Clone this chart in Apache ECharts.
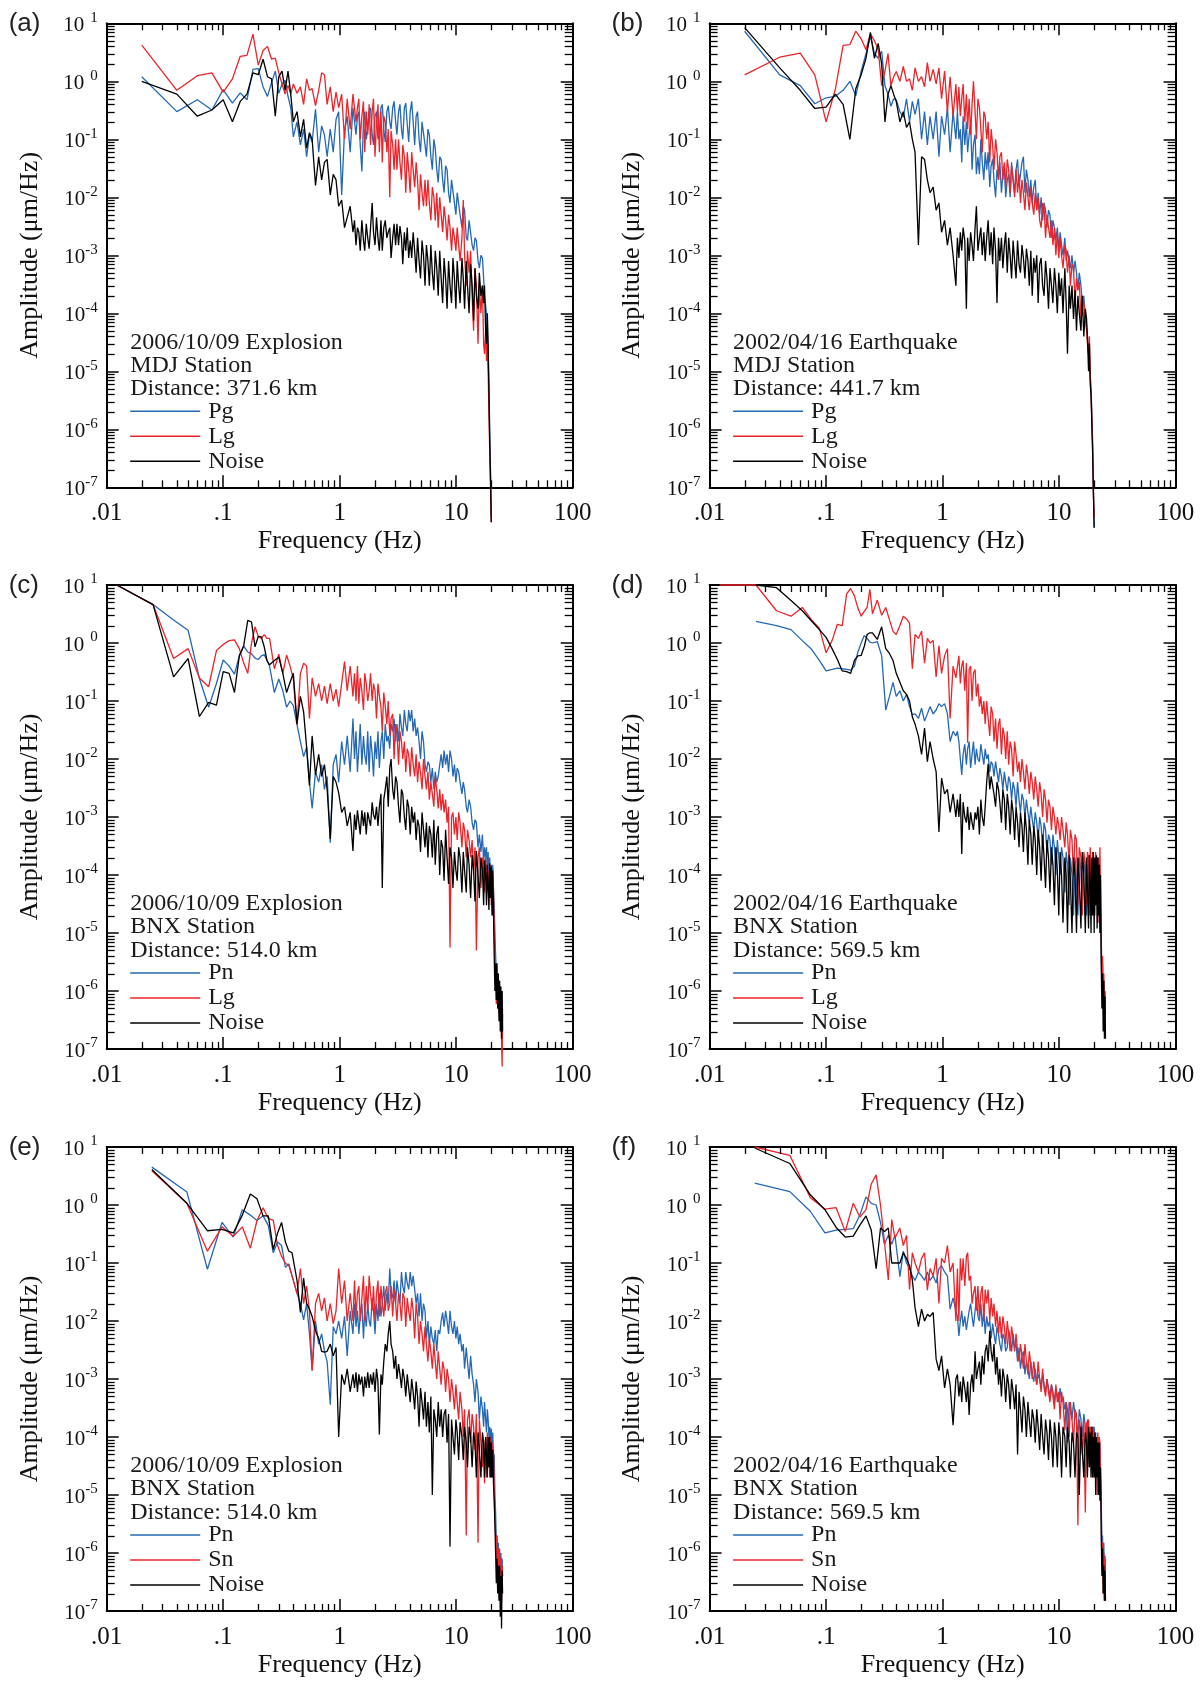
<!DOCTYPE html>
<html><head><meta charset="utf-8">
<script src="https://cdn.jsdelivr.net/npm/echarts@6/dist/echarts.min.js"></script>
<style>html,body{margin:0;padding:0;background:#fff}#c{width:1203px;height:1689px}</style>
</head><body><div id="c"></div>
<script>
// ---------- axis tick labels ----------
const xTickLabels = ['.01', '.1', '1', '10', '100'];
const yTickExps = ['-7', '-6', '-5', '-4', '-3', '-2', '-1', '0', '1'];

// ---------- frequencies (Hz) ----------
const freqMid = [0.43,0.46,0.49,0.52,0.55,0.58,0.62,0.66,0.70,0.74,0.78,0.83,0.88,0.93,0.98,1.04,1.10,1.16,1.23,1.30,
1.34,1.38,1.42,1.46,1.50,1.55,1.60,1.64,1.69,1.74,1.79,1.84,1.90,1.95,2.01,2.07,2.13,2.19,2.26,2.32,
2.39,2.46,2.54,2.61,2.69,2.76,2.85,2.93,3.02,3.10,3.20,3.29,3.39,3.48,3.59,3.69,3.80,3.91,4.03,4.15,
4.27,4.40,4.53,4.66,4.80,4.94,5.09,5.24,5.40,5.55,5.72,5.88,6.06,6.24,6.43,6.61,6.81,7.01,7.22,7.43,
7.65,7.87,8.11,8.35,8.60,8.85,9.12,9.38,9.66,9.94,10.2,10.5,10.8,11.2,11.5,11.8,12.2,12.5,12.9,13.3,
13.7,14.1,14.5,14.9,15.4,15.8,16.3,16.8,17.2,17.5,17.9,18.2,18.5,18.8];
const freqTail40 = [19.1,19.4,19.7,20.0];
const freqTail50 = [19.1,19.4,19.7,20.0,20.3,20.6,20.9,21.2,21.5,21.8,22.1,22.4,22.7,23.0,23.3,23.6,23.9,24.2,24.5,24.8,25.0];
const freqA = [0.02,0.04,0.06,0.08,0.10,0.12,0.14,0.16,0.18,0.20,0.22,0.24,0.26,0.28,0.30,0.32,0.34,0.36,0.38,0.40].concat(freqMid, freqTail40);
const freqC = [0.0122,0.025,0.0375,0.05,0.0625,0.075,0.0875,0.1,0.1125,0.125,0.1375,0.15,0.1625,0.175,0.1875,0.2,0.2125,0.225,0.2375,0.25,0.275,0.3,0.325,0.35,0.375,0.4].concat(freqMid, freqTail50);
const freqE = [0.0244,0.0488,0.0732,0.0977,0.122,0.146,0.171,0.195,0.22,0.244,0.269,0.293,0.317,0.342,0.366,0.39].concat(freqMid, freqTail50);

// ---------- amplitudes (um/Hz) ----------
const aPg = [1.2,0.30,0.48,0.32,0.72,0.42,0.63,0.48,1.6,1.65,0.8,0.55,0.95,1.5,0.62,0.9,1.05,0.55,0.35,0.11,
0.2,0.08,0.15,0.05,0.12,0.09,0.33,0.06,0.17,0.12,0.05,0.15,0.06,0.22,0.3,0.011,0.14,0.25,0.06,0.35,
0.35,0.12,0.25,0.3,0.08,0.028,0.2,0.3,0.1,0.15,0.3,0.35,0.12,0.08,0.25,0.3,0.1,0.13,0.35,0.4,
0.15,0.09,0.3,0.38,0.2,0.15,0.35,0.45,0.2,0.12,0.3,0.4,0.15,0.1,0.35,0.42,0.18,0.09,0.3,0.45,
0.2,0.08,0.25,0.3,0.1,0.06,0.2,0.2,0.08,0.05,0.15,0.12,0.05,0.03,0.1,0.07,0.03,0.018,0.05,0.045,
0.02,0.012,0.035,0.03,0.012,0.008,0.02,0.02,0.008,0.005,0.012,0.012,0.005,0.003,0.007,0.006,0.002,0.0018,0.004,0.004,
0.0015,0.0012,0.002,0.0018,8e-4,6e-4,1e-3,9e-4,4e-4,2e-4,2e-4,1e-4,5e-5,2e-5,
6e-6,1e-6,2e-7,3e-8];
const aLg = [4.2,0.70,1.25,1.4,0.65,1.1,2.7,2.8,6.5,1.9,3.4,4.0,2.4,2.5,1.4,0.9,0.6,0.85,0.6,0.9,
0.62,0.8,0.4,1.1,0.7,0.75,0.38,0.7,1.4,1.3,0.4,0.8,0.3,0.65,0.35,0.6,0.1,0.5,0.15,0.6,
0.6,0.2,0.35,0.5,0.1,0.25,0.45,0.06,0.3,0.12,0.4,0.08,0.3,0.5,0.05,0.2,0.4,0.06,0.3,0.04,
0.25,0.2,0.06,0.15,0.01,0.14,0.08,0.03,0.1,0.03,0.1,0.04,0.02,0.08,0.05,0.012,0.06,0.03,0.012,0.06,
0.03,0.015,0.04,0.02,0.006,0.025,0.012,0.007,0.02,0.007,0.02,0.008,0.004,0.015,0.01,0.004,0.012,0.003,0.01,0.005,
0.0025,0.007,0.004,0.0018,0.005,0.003,0.0012,0.003,0.002,0.0012,0.003,0.0015,8e-4,0.002,0.009,0.001,3e-4,0.0012,5e-4,0.0012,
2e-4,5e-5,6e-4,3e-4,3e-5,3e-4,1e-4,3e-4,3e-5,2e-5,5e-5,1.5e-5,3e-5,1e-5,
2e-6,4e-7,1e-7,2.5e-8];
const aNoise = [1.0,0.6,0.25,0.32,0.48,0.2,0.45,0.6,1.4,1.3,2.4,1.2,1.1,0.25,1.2,1.5,0.7,1.5,0.6,0.2,
0.3,0.11,0.22,0.07,0.13,0.1,0.016,0.05,0.02,0.04,0.045,0.011,0.025,0.02,0.007,0.009,0.003,0.0045,0.007,0.0025,
0.004,0.0015,0.003,0.0025,0.0012,0.004,0.0018,0.0012,0.0035,0.002,0.0013,0.003,0.008,0.0025,0.0015,0.0045,0.002,0.0012,0.004,0.0012,
0.003,0.004,0.002,0.0025,0.003,0.0009,0.002,0.0035,0.0015,0.0035,0.0015,0.0032,0.002,0.0007,0.0025,0.0012,0.003,0.0009,0.0018,0.0009,
0.0025,0.0012,0.0005,0.002,0.0008,0.0004,0.0018,0.001,0.0003,0.0015,0.0008,0.0003,0.0015,0.0005,0.00025,0.0012,0.0006,0.0002,0.0012,0.0004,
0.00015,0.0009,0.0004,0.00012,0.0008,0.0003,0.00015,0.0009,0.0004,0.00012,0.0008,0.0003,0.00015,0.0009,0.0004,0.00012,0.0008,0.0003,0.0001,0.0007,
0.0003,7.5e-5,0.0006,0.0002,0.00012,0.0005,0.0002,0.0003,0.00015,0.0003,5e-5,3e-5,1e-4,3e-5,
4e-6,6e-7,1.5e-7,2.5e-8];

const bPg = [7.3,1.29,0.84,0.41,0.52,0.55,0.7,1.0,0.56,1.5,3.0,6.0,3.0,2.5,3.3,0.84,0.6,0.37,0.5,0.48,
0.3,0.24,0.5,0.2,0.45,0.27,0.5,0.1,0.3,0.08,0.25,0.1,0.3,0.05,0.25,0.12,0.35,0.06,0.3,0.1,
0.3,0.1,0.15,0.04,0.25,0.08,0.2,0.06,0.12,0.2,0.03,0.08,0.12,0.025,0.05,0.025,0.1,0.04,0.02,0.06,
0.03,0.06,0.015,0.035,0.045,0.02,0.01,0.03,0.02,0.04,0.012,0.025,0.035,0.01,0.02,0.025,0.01,0.04,0.02,0.012,
0.03,0.045,0.015,0.025,0.04,0.05,0.012,0.03,0.02,0.01,0.02,0.008,0.015,0.02,0.006,0.012,0.005,0.01,0.004,0.008,
0.006,0.003,0.006,0.005,0.002,0.004,0.003,0.0018,0.003,0.0012,0.0025,0.0015,0.001,0.002,0.0008,0.0012,0.0012,0.0006,0.001,0.0005,
0.0008,0.0005,0.00025,0.0005,0.0003,0.00015,0.0002,8e-5,6e-5,4e-5,2e-5,1.5e-5,8e-6,5e-6,
2e-6,6e-7,1e-7,2e-8];
const bLg = [1.29,2.6,3.06,1.29,0.2,0.73,4.15,4.3,7.3,5.4,3.5,6.6,5.0,3.5,0.84,1.5,3.0,0.84,1.2,1.48,
1.0,1.8,1.0,1.1,0.7,1.7,1.0,1.2,0.8,2.1,1.0,1.6,0.9,1.7,0.5,1.5,0.3,1.2,0.25,0.9,
0.3,0.8,0.25,0.5,0.9,0.2,0.6,0.15,0.5,0.12,0.4,1.0,0.3,0.1,0.5,0.35,0.15,0.06,0.3,0.25,
0.1,0.2,0.04,0.15,0.08,0.03,0.1,0.06,0.02,0.05,0.06,0.02,0.04,0.015,0.045,0.03,0.012,0.035,0.02,0.01,
0.03,0.012,0.025,0.008,0.02,0.012,0.006,0.018,0.01,0.006,0.015,0.008,0.005,0.012,0.006,0.01,0.004,0.003,0.008,0.007,
0.002,0.005,0.003,0.002,0.004,0.0015,0.003,0.001,0.0025,0.0009,0.002,0.001,0.0006,0.0015,0.0012,0.0005,0.001,0.0003,0.0007,0.0006,
0.00015,0.0004,0.00025,0.00035,8e-5,0.0002,0.00015,0.00015,5e-5,3e-5,2e-5,4e-5,1e-5,4e-6,
1.5e-6,5e-7,8e-8,3e-8];
const bNoise = [8.4,1.7,0.7,0.34,0.36,0.6,0.4,0.1,0.75,1.3,2.5,7.0,2.5,4.5,2.0,0.2,0.6,0.84,0.6,0.45,
0.2,0.3,0.16,0.2,0.1,0.06,0.0015,0.05,0.045,0.02,0.012,0.015,0.006,0.008,0.0025,0.004,0.0015,0.003,0.001,0.0003,
0.002,0.0009,0.0025,0.0012,0.003,0.0018,0.00012,0.002,0.0008,0.0025,0.0015,0.0008,0.003,0.007,0.0012,0.002,0.003,0.001,0.0025,0.0008,
0.002,0.004,0.001,0.0025,0.0007,0.003,0.0012,0.00015,0.002,0.0008,0.002,0.0006,0.0015,0.0025,0.0005,0.002,0.001,0.0004,0.0018,0.0008,
0.0004,0.0018,0.0007,0.0005,0.0015,0.0009,0.0004,0.0013,0.0008,0.0003,0.0012,0.0002,0.0009,0.0005,0.001,0.00015,0.0007,0.0009,0.0003,0.0002,
0.0008,0.0004,0.00012,0.0006,0.0003,0.00015,0.0006,0.0003,0.0001,0.0005,0.0002,0.0004,0.0001,0.0006,0.00015,2e-5,0.0003,0.00012,0.0003,8e-5,
0.00025,5e-5,0.0002,0.0001,5e-5,0.0002,4e-5,0.00012,8e-5,4e-5,1e-5,3e-5,6e-6,4e-6,
1.2e-6,4e-7,8e-8,2e-8];

const cPn = [10,4.6,2.5,1.66,0.245,0.078,0.2,0.51,0.4,0.29,0.6,0.88,0.7,0.65,0.55,0.52,0.6,0.63,0.5,0.4,0.14,0.24,0.15,0.078,0.1,0.083,
0.039,0.02,0.011,0.016,0.004,0.0014,0.006,0.004,0.008,0.003,0.005,0.00036,0.008,0.012,0.004,0.02,0.008,0.025,0.006,0.05,
0.01,0.03,0.006,0.015,0.04,0.008,0.025,0.012,0.008,0.03,0.006,0.025,0.012,0.005,0.02,0.01,0.03,0.007,0.02,0.03,
0.01,0.04,0.02,0.025,0.015,0.04,0.03,0.05,0.02,0.04,0.02,0.06,0.035,0.025,0.07,0.04,0.03,0.07,0.045,0.07,
0.03,0.05,0.025,0.035,0.02,0.01,0.03,0.02,0.008,0.006,0.009,0.008,0.004,0.007,0.003,0.006,0.004,0.005,0.008,0.012,
0.007,0.014,0.008,0.012,0.006,0.014,0.01,0.005,0.008,0.004,0.007,0.006,0.004,0.0025,0.004,0.003,0.0015,0.0012,0.002,0.0015,
0.0008,0.0006,0.0009,0.0008,0.0003,0.0005,0.00025,0.0005,0.00015,0.0003,0.0002,0.0003,0.0001,0.00025,
8e-5,0.0002,6e-5,0.00015,4e-5,0.00015,5e-5,3e-5,1e-5,4e-6,2e-6,1e-6,2e-6,6e-7,1.5e-6,4e-7,1.2e-6,3e-7,9e-7,2e-7,5e-7];
const cLg = [10,4.6,0.54,0.8,0.25,0.176,0.74,0.94,1.1,1.13,0.8,0.45,0.3,1.0,1.9,1.3,1.2,1.4,1.2,1.2,0.36,0.64,0.3,0.62,0.4,0.24,
0.039,0.3,0.45,0.4,0.05,0.25,0.12,0.2,0.1,0.18,0.09,0.2,0.1,0.16,0.08,0.2,0.48,0.15,0.4,0.12,
0.3,0.1,0.4,0.09,0.25,0.15,0.07,0.3,0.2,0.1,0.15,0.3,0.1,0.2,0.15,0.05,0.2,0.12,0.08,0.03,
0.14,0.08,0.04,0.1,0.025,0.05,0.06,0.01,0.04,0.03,0.008,0.03,0.02,0.01,0.02,0.006,0.015,0.012,0.005,0.016,
0.008,0.005,0.012,0.004,0.009,0.006,0.003,0.01,0.005,0.003,0.006,0.002,0.004,0.0025,0.0015,0.005,0.003,0.0014,0.003,0.0013,
0.0025,0.0012,0.002,0.0008,0.0015,5.6e-6,0.001,0.0012,0.0005,0.001,0.0004,0.0012,0.0008,0.0003,0.0008,0.0006,0.0002,0.0006,0.0004,0.0002,
0.0004,0.00012,0.0003,5e-6,0.0002,0.0003,6e-5,0.0002,0.00012,5e-5,0.0002,8e-5,0.00015,5e-5,
0.00012,4e-5,0.00015,3e-5,0.0001,2e-5,6e-5,1e-5,4e-6,2e-6,6e-7,2e-6,5e-7,1.5e-6,4e-7,1.2e-6,3e-7,1e-6,1.5e-7,5e-8,4e-7];
const cNoise = [10,4.6,0.26,0.54,0.054,0.095,0.085,0.32,0.3,0.14,0.6,0.9,2.46,2.3,0.86,1.3,1.27,0.86,0.5,0.42,0.5,0.57,0.3,0.14,0.21,0.3,
0.04,0.12,0.065,0.016,0.0035,0.025,0.0053,0.012,0.005,0.008,0.003,0.00042,0.005,0.004,0.0026,0.0012,0.0015,0.0007,0.0012,0.00026,
0.0011,0.0006,0.0013,0.0008,0.0005,0.0013,0.0007,0.0012,0.0005,0.0012,0.0009,0.0007,0.0018,0.0011,0.0009,0.0015,0.0007,0.0015,0.0025,6e-5,
0.002,0.003,0.005,0.0015,0.007,0.01,0.003,0.002,0.005,0.004,0.0015,0.0008,0.003,0.0025,0.001,0.0006,0.002,0.0015,0.0005,0.0015,
0.0008,0.0012,0.0004,0.0009,0.0007,0.00025,0.0012,0.0006,0.0003,0.0008,0.0002,0.0007,0.0005,0.0002,0.0009,0.00015,0.0005,0.0007,0.0001,0.0004,
0.0003,8e-5,0.0006,0.0002,7e-5,0.0003,0.0002,6e-5,0.00025,0.00012,8e-5,0.0003,0.0002,5e-5,0.00025,0.00012,5e-5,0.0003,0.00015,4e-5,
0.00022,0.00012,3.5e-5,0.00026,0.0001,4e-5,0.0002,0.00012,3e-5,0.00018,0.0001,3e-5,0.00015,6e-5,
2.5e-5,0.00016,4e-5,0.00014,2e-5,0.00012,2e-5,4e-6,1e-6,3e-6,7e-7,3e-6,5e-7,2e-6,3e-7,1.5e-6,2e-7,1.2e-6,1.5e-7,1e-6,2e-7];

const dPn = [null,2.37,2.0,1.7,1.1,0.78,0.5,0.33,0.35,0.37,0.36,0.35,0.34,0.4,0.7,1.0,1.35,1.2,1.04,1.0,1.06,0.6,0.07,0.12,0.21,0.12,
0.15,0.1,0.13,0.08,0.058,0.06,0.05,0.075,0.045,0.06,0.08,0.06,0.07,0.09,0.08,0.09,0.06,0.02,0.03,0.025,
0.03,0.02,0.01,0.0053,0.012,0.018,0.008,0.015,0.02,0.007,0.012,0.02,0.008,0.015,0.01,0.009,0.018,0.012,0.008,0.015,
0.01,0.012,0.006,0.009,0.008,0.005,0.009,0.006,0.004,0.007,0.005,0.003,0.006,0.004,0.0028,0.005,0.004,0.002,0.004,0.003,
0.0015,0.004,0.002,0.0012,0.0025,0.002,0.001,0.002,0.0012,0.0008,0.0015,0.0009,0.0006,0.0012,0.0008,0.0004,0.001,0.0007,0.0003,0.0008,
0.0006,0.00025,0.0005,0.0004,0.00015,0.0005,0.0003,0.0001,0.0004,0.0002,0.0001,0.0003,0.0002,5e-5,0.00025,0.00015,3e-5,0.0002,0.0001,2e-5,
0.0002,8e-5,2e-5,0.0002,0.00012,3e-5,0.00018,0.0001,2e-5,0.00015,8e-5,2e-5,0.00015,5e-5,
3e-5,0.00015,5e-5,0.00015,3e-5,0.00012,4e-5,0.0001,2e-5,0.0001,1.5e-5,8e-5,2e-5,5e-6,1e-6,3e-6,5e-7,1.5e-6,3e-7,8e-7,4e-7];
const dLg = [10,10,3.6,2.9,4.1,2.5,1.8,0.68,1.1,2.1,2.0,7.0,8.7,6.5,4.0,2.9,3.5,4.1,8.4,3.2,5.5,3.0,4.1,2.5,1.6,1.4,
2.0,2.9,2.6,2.2,0.36,1.4,1.2,1.6,0.45,1.2,1.0,1.1,0.26,0.9,0.3,0.6,0.8,0.05,0.4,0.25,
0.25,0.6,0.2,0.4,0.5,0.15,0.45,0.019,0.35,0.4,0.1,0.3,0.35,0.12,0.2,0.08,0.12,0.06,0.1,0.04,
0.1,0.05,0.025,0.08,0.06,0.02,0.05,0.015,0.04,0.05,0.012,0.035,0.025,0.01,0.03,0.008,0.02,0.015,0.005,0.02,
0.012,0.006,0.009,0.004,0.01,0.006,0.003,0.008,0.005,0.0025,0.006,0.004,0.002,0.005,0.003,0.0015,0.004,0.0025,0.001,0.003,
0.002,0.0008,0.002,0.0015,0.0006,0.0015,0.001,0.0005,0.001,0.0007,0.0004,0.001,0.0006,0.0003,0.0008,0.0005,0.00015,0.0006,0.0004,0.0001,
0.0005,0.0004,3e-5,0.0003,0.0002,2e-5,0.00025,0.00015,3e-5,0.00025,0.0002,4e-5,0.0003,0.0001,
2e-5,0.00025,5e-5,0.0002,2e-5,0.00025,6e-5,0.0002,1.5e-5,0.0002,3e-5,0.0003,5e-5,8e-6,2e-6,4e-6,8e-7,2e-6,5e-7,1e-6,6e-7];
const dNoise = [null,10,9.0,5.4,3.6,2.4,1.7,1.25,0.8,0.52,0.33,0.32,0.3,0.5,0.6,0.61,0.87,1.4,1.5,1.5,1.15,1.9,0.8,0.66,0.5,0.3,
0.21,0.15,0.13,0.1,0.053,0.04,0.025,0.012,0.034,0.009,0.02,0.01,0.006,0.00055,0.0047,0.0025,0.003,0.0012,0.0025,0.001,
0.002,0.001,0.0025,0.00023,0.0018,0.001,0.0008,0.0015,0.0006,0.0012,0.0008,0.0006,0.0012,0.0009,0.0015,0.0005,0.002,0.001,0.0007,0.0015,
0.004,0.0083,0.003,0.005,0.0053,0.0025,0.0015,0.004,0.003,0.0018,0.0008,0.003,0.002,0.0006,0.0025,0.0015,0.0005,0.002,0.0012,0.0004,
0.0015,0.0008,0.0003,0.0012,0.0007,0.00025,0.0012,0.0006,0.00015,0.0009,0.0005,0.00015,0.0007,0.0004,0.0001,0.0006,0.0003,0.00008,0.0005,0.0002,
0.00006,0.0004,0.0002,0.00005,0.0003,0.00015,0.00003,0.0003,0.00012,0.00002,0.00025,0.0001,0.000015,0.0002,0.0001,0.00001,0.00022,0.00008,0.00001,0.0002,
0.0001,0.00001,0.0002,0.00008,0.000012,0.00025,0.0001,0.00001,0.0002,0.00006,0.000012,0.00022,0.00008,0.00001,
0.0002,0.00002,0.00025,0.00001,0.0002,0.00003,0.00022,0.000012,0.0002,0.00002,0.00015,0.00001,0.0001,3e-6,5e-7,2e-6,2e-7,1.5e-6,1.5e-7,8e-7,1.5e-7];

const ePn = [4.5,1.67,0.078,0.5,0.28,0.83,0.67,0.54,0.65,0.44,0.15,0.23,0.2,0.084,0.096,0.06,
0.03,0.02,0.0105,0.02,0.006,0.0014,0.01,0.004,0.006,0.003,0.002,0.00036,0.008,0.006,0.01,0.005,0.012,0.0025,0.015,0.006,
0.02,0.008,0.015,0.006,0.012,0.02,0.005,0.015,0.008,0.02,0.01,0.008,0.025,0.015,0.006,0.02,0.01,0.03,0.012,0.02,
0.04,0.015,0.03,0.02,0.08,0.03,0.025,0.05,0.02,0.05,0.03,0.02,0.07,0.04,0.03,0.07,0.045,0.035,0.07,0.04,
0.06,0.035,0.02,0.03,0.012,0.03,0.01,0.02,0.015,0.005,0.01,0.004,0.008,0.005,0.004,0.007,0.003,0.007,0.006,0.01,
0.014,0.008,0.015,0.01,0.006,0.015,0.008,0.006,0.01,0.005,0.008,0.004,0.006,0.003,0.004,0.0015,0.0035,0.002,0.001,0.0025,
0.0012,0.0008,0.0004,0.001,0.0006,0.0002,0.0005,0.0003,0.00015,0.0004,0.0002,0.00012,0.0003,0.0002,
0.0001,0.00015,6e-5,0.00014,5e-5,0.00012,4e-5,5e-5,1e-5,5e-6,1.5e-6,2e-6,6e-7,1.5e-6,4e-7,1.2e-6,3e-7,1e-6,2e-7,8e-7,4e-7];
const eSn = [3.9,1.07,0.16,0.42,0.29,0.42,0.18,0.54,0.9,0.58,0.55,0.2,0.13,0.1,0.09,0.06,
0.03,0.08,0.02,0.04,0.015,0.0014,0.02,0.03,0.015,0.025,0.01,0.02,0.009,0.015,0.08,0.02,0.05,0.01,0.03,0.01,
0.05,0.012,0.03,0.04,0.01,0.025,0.06,0.01,0.04,0.015,0.06,0.03,0.015,0.04,0.01,0.03,0.05,0.012,0.04,0.02,
0.012,0.03,0.04,0.015,0.02,0.04,0.012,0.035,0.02,0.01,0.03,0.02,0.01,0.03,0.025,0.008,0.025,0.015,0.01,0.025,
0.015,0.005,0.02,0.012,0.004,0.01,0.006,0.003,0.008,0.004,0.002,0.005,0.003,0.0015,0.004,0.002,0.001,0.003,0.0015,0.0008,
0.002,0.0015,0.0006,0.0015,0.001,0.0004,0.001,0.0006,0.0003,0.0008,0.0004,0.0002,0.0006,0.0003,0.0001,0.0003,2e-6,0.0002,0.0003,8e-5,
0.00025,0.00015,6e-5,0.00025,1.5e-6,0.0002,8e-5,3e-5,9e-5,1.6e-5,0.0001,2e-5,0.00012,3e-5,
0.0001,2e-5,0.0001,2e-5,8e-5,3e-5,6e-5,1e-5,4e-6,2e-6,8e-7,2e-6,5e-7,1.2e-6,3e-7,1e-6,2e-7,8e-7,1.5e-7,6e-7,4e-7];
const eNoise = [4.1,1.07,0.36,0.38,0.33,0.67,1.55,1.28,0.65,0.65,0.17,0.33,0.5,0.23,0.16,0.15,
0.05,0.014,0.055,0.02,0.016,0.012,0.0068,0.005,0.003,0.0029,0.003,0.004,0.0025,0.0035,0.0001,0.0012,0.0008,0.0015,0.0006,0.0012,
0.0007,0.0013,0.0006,0.0012,0.0008,0.0011,0.0005,0.0011,0.0007,0.0013,0.0007,0.0012,0.0008,0.0013,0.0006,0.0015,0.0009,0.00011,0.0012,0.0008,
0.002,0.004,0.003,0.006,0.01,0.004,0.003,0.0015,0.0025,0.001,0.0018,0.0012,0.0007,0.0015,0.001,0.0005,0.0012,0.0007,0.0004,0.001,
0.0006,0.0003,0.0009,0.0005,0.00015,0.0007,0.0004,0.0002,0.0006,0.00015,0.0004,0.00012,0.0005,0.00001,0.0003,0.0002,0.0001,0.0004,0.00015,0.0003,
0.0001,0.00025,0.0003,0.00008,0.00025,1.3e-6,0.0002,0.0001,0.00005,0.0002,0.00012,0.00004,0.00018,0.0001,0.00004,0.00015,0.00008,0.00003,0.00015,0.0001,
0.00003,0.00012,0.00008,0.00002,0.00012,0.00006,0.00002,0.00012,0.00008,0.00002,0.0001,0.00005,0.00002,0.0001,
3e-5,0.0001,2e-5,8e-5,2e-5,6e-5,1.5e-5,8e-6,3e-6,1e-6,3e-7,8e-7,2e-7,6e-7,1.5e-7,6e-7,8e-8,4e-7,5e-8,5e-7,2e-7];

const fPn = [2.38,1.7,0.78,0.33,0.37,0.38,0.39,0.67,1.38,1.07,1.0,0.5,0.21,0.3,0.21,0.3,
0.058,0.16,0.1,0.08,0.06,0.05,0.07,0.06,0.05,0.07,0.05,0.06,0.045,0.08,0.09,0.07,0.06,0.016,0.025,0.015,
0.012,0.0055,0.01,0.015,0.008,0.012,0.007,0.01,0.015,0.02,0.012,0.008,0.015,0.025,0.012,0.01,0.02,0.008,0.015,0.006,
0.012,0.008,0.01,0.005,0.009,0.006,0.004,0.008,0.006,0.004,0.003,0.006,0.005,0.003,0.0035,0.007,0.005,0.003,0.006,0.0035,
0.004,0.002,0.0035,0.0015,0.0025,0.003,0.0012,0.002,0.0015,0.001,0.002,0.0012,0.0009,0.0015,0.0008,0.0012,0.001,0.0007,0.0012,0.0008,
0.0006,0.001,0.0007,0.0005,0.0008,0.0006,0.0004,0.0007,0.0005,0.0004,0.0007,0.0004,0.0005,0.0003,0.0004,0.00008,0.0004,0.0003,0.0002,0.0004,
0.00025,0.0002,0.0001,0.0003,0.0002,0.0001,0.00025,0.00015,0.00008,0.0002,0.00012,0.00006,0.00015,0.0001,
5e-5,0.00015,7e-5,0.00015,6e-5,0.00012,3e-5,0.0001,2e-5,0.0001,3e-5,8e-5,2e-5,8e-6,1.5e-6,2e-6,5e-7,1.5e-6,3e-7,9e-7,5e-7];
const fSn = [10,7.2,1.34,0.85,0.9,0.35,1.07,0.62,0.83,2.3,3.3,1.0,0.23,0.051,0.56,0.27,
0.4,0.2,0.3,0.035,0.15,0.1,0.07,0.12,0.15,0.034,0.08,0.06,0.12,0.02,0.12,0.1,0.2,0.07,0.1,0.01,
0.08,0.01,0.12,0.05,0.12,0.04,0.13,0.15,0.05,0.06,0.02,0.03,0.04,0.015,0.04,0.012,0.03,0.04,0.01,0.035,
0.02,0.035,0.01,0.025,0.012,0.02,0.008,0.015,0.006,0.012,0.005,0.012,0.008,0.004,0.01,0.006,0.003,0.008,0.005,0.003,
0.006,0.003,0.002,0.004,0.0025,0.0015,0.004,0.002,0.0012,0.003,0.0018,0.001,0.002,0.0012,0.0008,0.002,0.001,0.0006,0.0015,0.0007,
0.0005,0.001,0.0006,0.0004,0.0008,0.0005,0.0003,0.0008,0.0004,0.0006,0.0002,0.0006,0.0004,0.00013,0.0004,0.0003,0.0001,0.0004,0.0002,0.00008,
0.0003,0.00025,3e-6,0.0002,0.00012,5e-5,0.0002,5e-6,0.00018,0.00005,0.0002,0.00003,0.00015,0.00006,
0.00015,2e-5,0.00015,3e-5,0.00012,2e-5,0.0001,1e-5,0.00012,1e-5,0.0001,8e-5,2e-5,5e-6,5e-7,1.5e-6,2e-7,1e-6,1.5e-7,8e-7,1.5e-7];
const fNoise = [9.6,5.2,1.5,0.83,0.41,0.28,0.29,0.45,0.65,0.37,0.08,0.4,0.35,0.4,0.1,0.1,
0.1,0.15,0.12,0.09,0.051,0.017,0.008,0.016,0.01,0.013,0.012,0.014,0.0022,0.0014,0.0025,0.0007,0.0015,0.0008,0.00016,0.001,
0.0012,0.0005,0.0009,0.0004,0.0011,0.0007,0.0004,0.0009,0.00024,0.0008,0.0012,0.0006,0.003,0.001,0.0015,0.002,0.0008,0.0025,0.0012,0.003,
0.0039,0.002,0.0068,0.003,0.002,0.004,0.0012,0.0024,0.0008,0.0015,0.0005,0.0015,0.001,0.0004,0.0012,0.0008,0.0003,0.001,0.0006,0.0003,
0.0008,0.00005,0.0006,0.0003,0.00012,0.0005,0.0003,0.0001,0.0004,0.0002,0.0001,0.0003,0.0002,0.00008,0.0003,0.00015,0.00006,0.00025,0.0001,0.00005,
0.0002,0.00012,0.00004,0.0002,0.0001,0.00003,0.00018,0.0001,0.00003,0.00018,0.0001,0.00002,0.00015,0.0001,0.00003,0.00015,0.00008,0.00002,0.00012,0.00008,
0.00002,0.00012,0.0001,0.00001,0.00015,0.00006,0.00002,0.00012,0.00008,0.00002,0.00015,0.00003,0.00012,0.00002,
0.00015,0.00002,0.0001,0.00002,0.00012,0.00001,0.0001,0.00002,0.00008,0.00001,0.00008,0.000008,0.00003,2e-6,4e-7,1.2e-6,2e-7,6e-7,1.5e-7,5e-7,1.5e-7];

// ---------- panel annotations ----------
const panelLetters = ['(a)', '(b)', '(c)', '(d)', '(e)', '(f)'];
const panelNotes = [
  ['2006/10/09 Explosion', 'MDJ Station', 'Distance: 371.6 km'],
  ['2002/04/16 Earthquake', 'MDJ Station', 'Distance: 441.7 km'],
  ['2006/10/09 Explosion', 'BNX Station', 'Distance: 514.0 km'],
  ['2002/04/16 Earthquake', 'BNX Station', 'Distance: 569.5 km'],
  ['2006/10/09 Explosion', 'BNX Station', 'Distance: 514.0 km'],
  ['2002/04/16 Earthquake', 'BNX Station', 'Distance: 569.5 km']
];
const panelSeries = [
  [freqA, [['Pg', aPg], ['Lg', aLg], ['Noise', aNoise]]],
  [freqA, [['Pg', bPg], ['Lg', bLg], ['Noise', bNoise]]],
  [freqC, [['Pn', cPn], ['Lg', cLg], ['Noise', cNoise]]],
  [freqC, [['Pn', dPn], ['Lg', dLg], ['Noise', dNoise]]],
  [freqE, [['Pn', ePn], ['Sn', eSn], ['Noise', eNoise]]],
  [freqE, [['Pn', fPn], ['Sn', fSn], ['Noise', fNoise]]]
];

// ---------- layout / style ----------
const BLUE = '#2468b4', RED = '#ec2329', BLACK = '#000000';
const COLORS = [BLUE, RED, BLACK];
const SERIF = '"Liberation Serif", "Times New Roman", "DejaVu Serif", serif';
const SANS = '"Liberation Sans", Arial, "DejaVu Sans", sans-serif';
const colLeft = [106.7, 709.6], rowTop = [23.3, 585, 1147];
const PW = 466, PH = 464;

// minor (2..9) log ticks - axis decoration only
const minorTicks = [];
for (let e = -2; e < 2; e++) for (let m = 2; m <= 9; m++) minorTicks.push([m * Math.pow(10, e), 1, 0]);
for (let e = -7; e < 1; e++) for (let m = 2; m <= 9; m++) minorTicks.push([1, m * Math.pow(10, e), 1]);

function renderMinor(params, api) {
  const cs = params.coordSys;
  const st = { stroke: '#000', lineWidth: 1.3 };
  if (api.value(2) === 0) {
    const x = Math.round(api.coord([api.value(0), 1])[0]) + 0.5;
    const yb = cs.y + cs.height, yt = cs.y;
    return { type: 'group', children: [
      { type: 'line', shape: { x1: x, y1: yb, x2: x, y2: yb - 7 }, style: st },
      { type: 'line', shape: { x1: x, y1: yt, x2: x, y2: yt + 7 }, style: st }
    ] };
  }
  const y = Math.round(api.coord([1, api.value(1)])[1]) + 0.5;
  const xl = cs.x, xr = cs.x + cs.width;
  return { type: 'group', children: [
    { type: 'line', shape: { x1: xl, y1: y, x2: xl + 8, y2: y }, style: st },
    { type: 'line', shape: { x1: xr, y1: y, x2: xr - 8, y2: y }, style: st }
  ] };
}

const grid = [], xAxis = [], yAxis = [], series = [], legend = [], graphic = [];
for (let p = 0; p < 6; p++) {
  const col = p % 2, row = Math.floor(p / 2);
  const L = colLeft[col], T = rowTop[row], B = T + PH;
  grid.push({ left: L, top: T, width: PW, height: PH });
  const axLine = { show: true, lineStyle: { color: '#000', width: 2 } };
  const axTick = { show: true, inside: true, length: 12, lineStyle: { color: '#000', width: 1.5 } };
  xAxis.push({
    type: 'log', logBase: 10, min: 0.01, max: 100, gridIndex: p, position: 'bottom',
    axisLine: axLine, axisTick: axTick, splitLine: { show: false }, minorTick: { show: false },
    axisLabel: { margin: 14, color: '#111', fontFamily: SERIF, fontSize: 25, showMinLabel: true, showMaxLabel: true,
      formatter: v => xTickLabels[Math.round(Math.log10(v)) + 2] },
    name: 'Frequency (Hz)', nameLocation: 'middle', nameGap: 41,
    nameTextStyle: { fontFamily: SERIF, fontSize: 26, color: '#111' }
  });
  xAxis.push({
    type: 'log', logBase: 10, min: 0.01, max: 100, gridIndex: p, position: 'top',
    axisLine: axLine, axisTick: axTick, axisLabel: { show: false }, splitLine: { show: false }
  });
  yAxis.push({
    type: 'log', logBase: 10, min: 1e-7, max: 10, gridIndex: p, position: 'left',
    axisLine: axLine, axisTick: axTick, splitLine: { show: false },
    axisLabel: { margin: 9, color: '#111', fontFamily: SERIF, showMinLabel: true, showMaxLabel: true,
      formatter: v => {
        const ex = yTickExps[Math.round(Math.log10(v)) + 7];
        return '{b|10}{' + (ex.charAt(0) === '-' ? 's' : 'p') + '|' + ex + '}';
      },
      rich: { b: { fontFamily: SERIF, fontSize: 21, lineHeight: 26, verticalAlign: 'bottom', color: '#111' },
              s: { fontFamily: SERIF, fontSize: 15, lineHeight: 15, verticalAlign: 'top', color: '#111' },
              p: { fontFamily: SERIF, fontSize: 15, lineHeight: 15, verticalAlign: 'top', color: '#111', padding: [0, 0, 0, 6] } } },
    name: 'Amplitude (\u03bcm/Hz)', nameLocation: 'middle', nameGap: 64,
    nameTextStyle: { fontFamily: SERIF, fontSize: 26, color: '#111' }
  });
  yAxis.push({
    type: 'log', logBase: 10, min: 1e-7, max: 10, gridIndex: p, position: 'right',
    axisLine: axLine, axisTick: axTick, axisLabel: { show: false }, splitLine: { show: false }
  });
  const [freq, ser] = panelSeries[p];
  ser.forEach(([name, vals], k) => {
    series.push({
      type: 'line', name: name, xAxisIndex: 2 * p, yAxisIndex: 2 * p,
      data: freq.map((f, i) => [f, vals[i]]),
      symbol: 'none', showSymbol: false, clip: false, silent: true, animation: false,
      lineStyle: { color: COLORS[k], width: 1.3 }, itemStyle: { color: COLORS[k] }, z: 2 + k
    });
  });
  series.push({
    type: 'custom', xAxisIndex: 2 * p, yAxisIndex: 2 * p, data: minorTicks,
    renderItem: renderMinor, encode: { x: 0, y: 1 }, silent: true, clip: false, animation: false, z: 10
  });
  legend.push({
    data: ser.map(s => s[0]), orient: 'vertical', left: L + 23.5, top: B - 88, padding: 0,
    icon: 'rect', itemWidth: 70, itemHeight: 1.6, itemGap: 1, selectedMode: false,
    textStyle: { fontFamily: SERIF, fontSize: 24, color: '#1a1a1a', lineHeight: 22, padding: [0, 0, 0, 3] }
  });
  graphic.push({
    type: 'text', left: L + 23.5, top: B - 157,
    style: { text: panelNotes[p].join('\n'), font: '24px ' + SERIF, lineHeight: 23.2, fill: '#1a1a1a' }
  });
  graphic.push({
    type: 'text', left: L - 98, top: T - 12,
    style: { text: panelLetters[p], font: '26px ' + SANS, fill: '#222' }
  });
}

const chart = echarts.init(document.getElementById('c'), null, { renderer: 'canvas' });
chart.setOption({ backgroundColor: '#fff', animation: false, grid, xAxis, yAxis, series, legend, graphic });
</script></body></html>
